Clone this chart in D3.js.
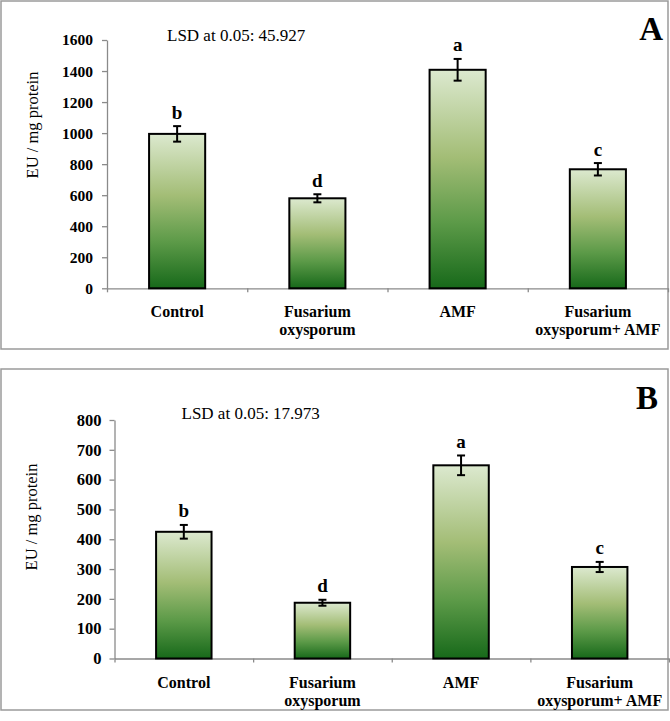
<!DOCTYPE html>
<html>
<head>
<meta charset="utf-8">
<script src="https://cdn.jsdelivr.net/npm/d3@7"></script>
<style>
  body { margin: 0; background: #fff; }
  text { font-family: 'Liberation Serif', 'Times New Roman', serif; }
</style>
</head>
<body>
<div id="chart-container"></div>
<script>
// Categories (x-axis labels split into lines)
const categories = ['Control', 'Fusarium oxysporum', 'AMF', 'Fusarium oxysporum+ AMF'];
const categoryLines = [['Control'], ['Fusarium', 'oxysporum'], ['AMF'], ['Fusarium', 'oxysporum+ AMF']];

// Panel A
const valuesA = [995, 580, 1408, 767];
const errorsA = [50, 26, 70, 40];
const lettersA = ['b', 'd', 'a', 'c'];
const ticksA = [0, 200, 400, 600, 800, 1000, 1200, 1400, 1600];
const lsdA = 'LSD at 0.05: 45.927';

// Panel B
const valuesB = [425, 187, 648, 307];
const errorsB = [23, 10, 33, 17];
const lettersB = ['b', 'd', 'a', 'c'];
const ticksB = [0, 100, 200, 300, 400, 500, 600, 700, 800];
const lsdB = 'LSD at 0.05: 17.973';

const chartWidth = 670;
const chartHeight = 721;

const svg = d3
  .select('#chart-container')
  .append('svg')
  .attr('width', chartWidth)
  .attr('height', chartHeight);

// Bar gradient: light on top, dark green at the bottom
const grad = svg.append('defs')
  .append('linearGradient')
  .attr('id', 'barGrad')
  .attr('x1', 0).attr('y1', 0).attr('x2', 0).attr('y2', 1);
grad.append('stop').attr('offset', '0%').attr('stop-color', '#dce9cf');
grad.append('stop').attr('offset', '40%').attr('stop-color', '#a3bd76');
grad.append('stop').attr('offset', '70%').attr('stop-color', '#5c9a48');
grad.append('stop').attr('offset', '100%').attr('stop-color', '#17691a');

const drawPanel = (cfg) => {
  const g = svg.append('g');

  // Frame
  g.append('rect')
    .attr('x', cfg.box[0])
    .attr('y', cfg.box[1])
    .attr('width', cfg.box[2])
    .attr('height', cfg.box[3])
    .attr('fill', 'none')
    .attr('stroke', '#9a9a9a')
    .attr('stroke-width', 1.5);

  const xScale = d3.scaleBand()
    .domain(categories)
    .range([cfg.left, cfg.right])
    .paddingInner(0.6)
    .paddingOuter(0.3);

  const yScale = d3.scaleLinear()
    .domain([0, d3.max(cfg.ticks)])
    .range([cfg.bottom, cfg.top]);

  // Y axis
  const yAxis = g.append('g')
    .attr('transform', `translate(${cfg.left},0)`)
    .call(d3.axisLeft(yScale)
      .tickValues(cfg.ticks)
      .tickFormat(d3.format('d'))
      .tickSize(5)
      .tickSizeOuter(0)
      .tickPadding(cfg.tickPad));
  yAxis.attr('font-family', null);
  yAxis.select('.domain').attr('stroke', '#8a8a8a').attr('stroke-width', 1.3);
  yAxis.selectAll('.tick line').attr('stroke', '#8a8a8a').attr('stroke-width', 1.3);
  yAxis.selectAll('.tick text')
    .attr('fill', '#000')
    .style('font-family', "'Liberation Serif', 'Times New Roman', serif")
    .style('font-weight', 'bold')
    .style('font-size', cfg.tickFont + 'px');

  // X axis: ticks at category boundaries
  const bScale = d3.scaleLinear().domain([0, categories.length]).range([cfg.left, cfg.right]);
  const xAxis = g.append('g')
    .attr('transform', `translate(0,${cfg.bottom})`)
    .call(d3.axisBottom(bScale).tickValues(d3.range(categories.length + 1)).tickFormat('').tickSize(4).tickSizeOuter(0));
  xAxis.select('.domain').attr('stroke', '#8a8a8a').attr('stroke-width', 1.3);
  xAxis.selectAll('.tick line').attr('stroke', '#8a8a8a').attr('stroke-width', 1.3);

  // Bars
  g.selectAll('rect.bar')
    .data(cfg.values)
    .enter()
    .append('rect')
    .attr('class', 'bar')
    .attr('x', (d, i) => xScale(categories[i]))
    .attr('y', (d) => yScale(d))
    .attr('width', xScale.bandwidth())
    .attr('height', (d) => cfg.bottom - yScale(d))
    .attr('fill', 'url(#barGrad)')
    .attr('stroke', '#000')
    .attr('stroke-width', 2);

  // Error bars
  const cx = (i) => xScale(categories[i]) + xScale.bandwidth() / 2;
  const err = g.selectAll('g.err')
    .data(cfg.values)
    .enter()
    .append('g')
    .attr('class', 'err')
    .attr('stroke', '#000')
    .attr('stroke-width', 2);
  err.append('line')
    .attr('x1', (d, i) => cx(i)).attr('x2', (d, i) => cx(i))
    .attr('y1', (d, i) => yScale(d + cfg.errors[i]))
    .attr('y2', (d, i) => yScale(d - cfg.errors[i]));
  err.append('line')
    .attr('x1', (d, i) => cx(i) - 4).attr('x2', (d, i) => cx(i) + 4)
    .attr('y1', (d, i) => yScale(d + cfg.errors[i]))
    .attr('y2', (d, i) => yScale(d + cfg.errors[i]));
  err.append('line')
    .attr('x1', (d, i) => cx(i) - 4).attr('x2', (d, i) => cx(i) + 4)
    .attr('y1', (d, i) => yScale(d - cfg.errors[i]))
    .attr('y2', (d, i) => yScale(d - cfg.errors[i]));

  // Significance letters
  g.selectAll('text.letter')
    .data(cfg.letters)
    .enter()
    .append('text')
    .attr('class', 'letter')
    .attr('x', (d, i) => cx(i))
    .attr('y', (d, i) => yScale(cfg.values[i] + cfg.errors[i]) - 7.5)
    .attr('text-anchor', 'middle')
    .attr('font-weight', 'bold')
    .attr('font-size', 19)
    .text((d) => d);

  // Category labels
  const lab = g.selectAll('text.cat')
    .data(categoryLines)
    .enter()
    .append('text')
    .attr('class', 'cat')
    .attr('text-anchor', 'middle')
    .attr('font-weight', 'bold')
    .attr('font-size', 16);
  lab.selectAll('tspan')
    .data((d, i) => d.map((t) => ({ t, i })))
    .enter()
    .append('tspan')
    .attr('x', (d) => cx(d.i))
    .attr('y', (d, j) => cfg.labelY + j * 17.5)
    .text((d) => d.t);

  // Y axis title
  g.append('text')
    .attr('transform', `translate(${cfg.yTitle[0]},${cfg.yTitle[1]}) rotate(-90)`)
    .attr('text-anchor', 'middle')
    .attr('font-size', 16.5)
    .text('EU / mg protein');

  // LSD note
  g.append('text')
    .attr('x', cfg.lsdPos[0])
    .attr('y', cfg.lsdPos[1])
    .attr('font-size', 17)
    .text(cfg.lsd);

  // Panel letter
  g.append('text')
    .attr('x', cfg.tagPos[0])
    .attr('y', cfg.tagPos[1])
    .attr('text-anchor', 'end')
    .attr('font-weight', 'bold')
    .attr('font-size', 33)
    .text(cfg.tag);
};

drawPanel({
  box: [1, 1, 667, 348],
  left: 107, right: 668, top: 40, bottom: 288.3,
  values: valuesA, errors: errorsA, letters: lettersA, ticks: ticksA,
  tickFont: 15.5, tickPad: 9,
  labelY: 317, yTitle: [37.5, 125],
  lsd: lsdA, lsdPos: [167, 40.5],
  tag: 'A', tagPos: [663, 40]
});

drawPanel({
  box: [1, 369, 667, 341],
  left: 114.5, right: 669, top: 420, bottom: 658.5,
  values: valuesB, errors: errorsB, letters: lettersB, ticks: ticksB,
  tickFont: 16.5, tickPad: 8,
  labelY: 688, yTitle: [37, 517],
  lsd: lsdB, lsdPos: [181.5, 418.5],
  tag: 'B', tagPos: [658, 409]
});
</script>
</body>
</html>
